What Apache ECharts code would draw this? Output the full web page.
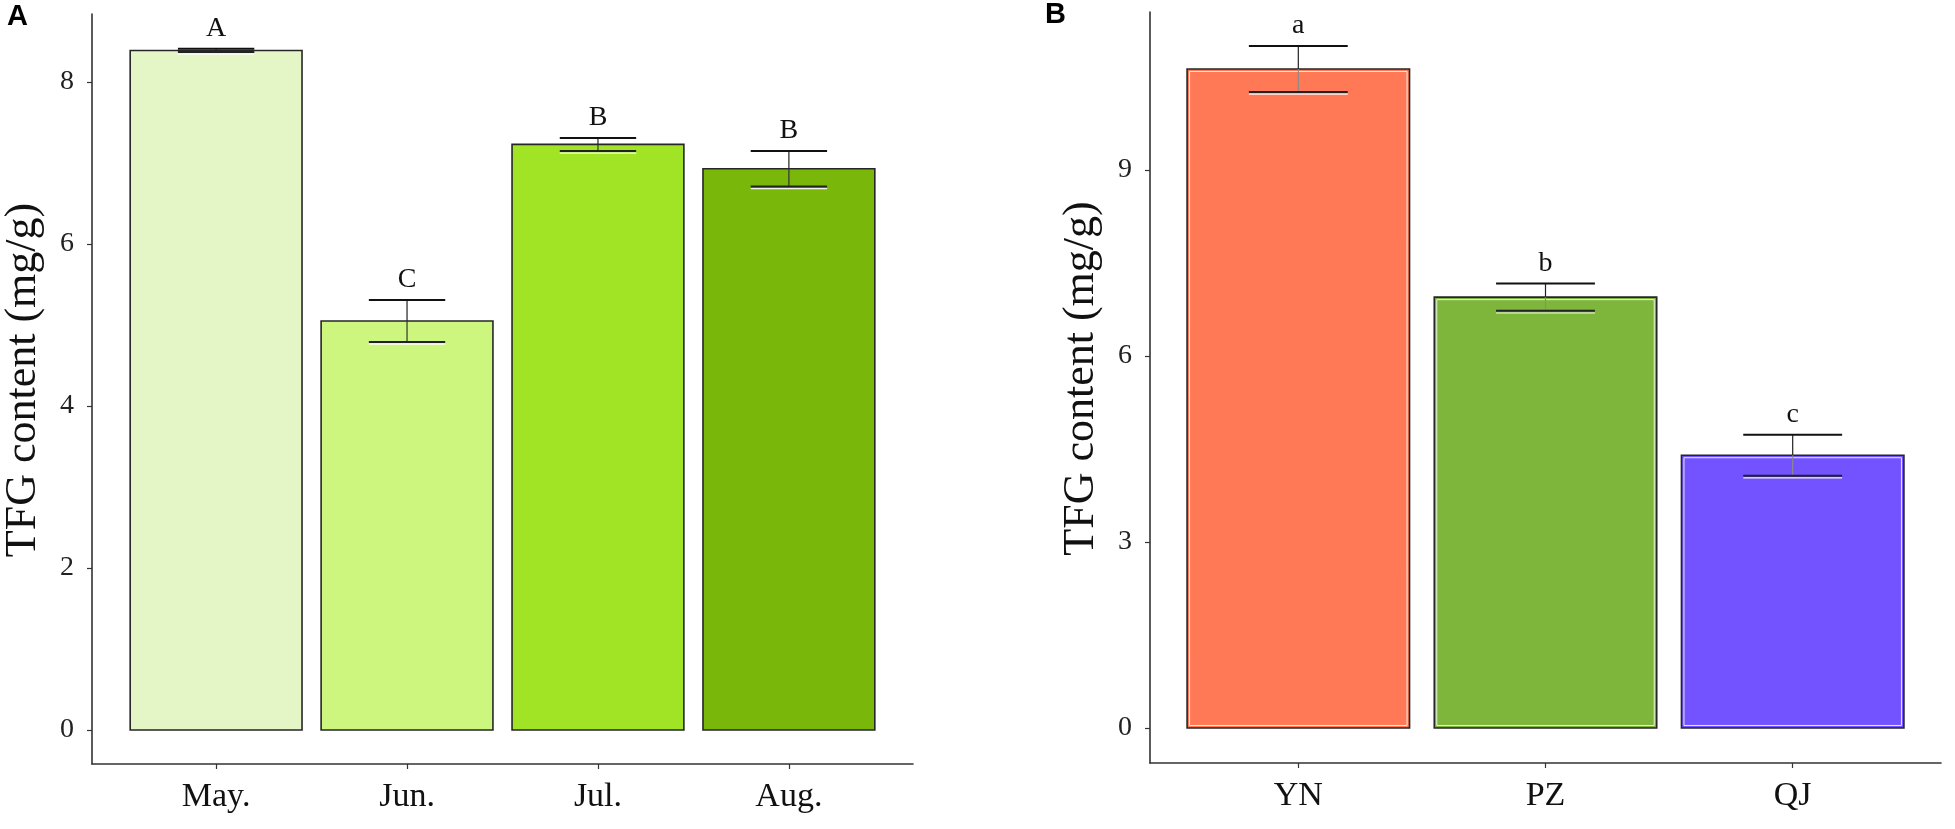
<!DOCTYPE html>
<html>
<head>
<meta charset="utf-8">
<script src="https://cdn.jsdelivr.net/npm/echarts@6/dist/echarts.min.js"></script>
<style>
  html, body { margin: 0; padding: 0; background: #ffffff; }
  #chart { width: 1955px; height: 829px; }
</style>
</head>
<body>
<div id="chart"></div>
<script>
// ---- Data ----
const months = ['May.', 'Jun.', 'Jul.', 'Aug.'];
const monthMeans = [8.39, 5.05, 7.23, 6.93];
const monthErrors = [0.02, 0.26, 0.08, 0.22];
const monthLetters = ['A', 'C', 'B', 'B'];
const monthTicks = [0, 2, 4, 6, 8];

const sites = ['YN', 'PZ', 'QJ'];
const siteMeans = [10.63, 6.95, 4.40];
const siteErrors = [0.37, 0.22, 0.33];
const siteLetters = ['a', 'b', 'c'];
const siteTicks = [0, 3, 6, 9];

// ---- Styles ----
const monthColors = ['#E4F6C6', '#CDF67F', '#A1E426', '#79B80A'];
const siteColors = ['#FF7956', '#7EB63B', '#7352FF'];
const SERIF = '"Liberation Serif", "Times New Roman", serif';

const monthData = months.map((m, i) => [i, monthMeans[i], monthErrors[i]]);
const siteData = sites.map((s, i) => [i, siteMeans[i], siteErrors[i]]);

function makeBarRender(colors, inner) {
  return function (params, api) {
    const i = api.value(0), v = api.value(1);
    const tl = api.coord([i - 0.45, v]);
    const br = api.coord([i + 0.45, 0]);
    const w = br[0] - tl[0], h = br[1] - tl[1];
    const children = [{
      type: 'rect',
      shape: { x: tl[0], y: tl[1], width: w, height: h },
      style: { fill: colors[params.dataIndex], stroke: '#262626', lineWidth: 1.6 }
    }];
    if (inner) {
      children.push({
        type: 'rect',
        shape: { x: tl[0] + 2.5, y: tl[1] + 2.5, width: w - 5, height: h - 5 },
        style: { fill: 'none', stroke: 'rgba(255,255,255,0.85)', lineWidth: 1 }
      });
    }
    return { type: 'group', children: children };
  };
}

function makeErrRender(letters, innerColor) {
  return function (params, api) {
    const i = api.value(0), v = api.value(1), e = api.value(2);
    const top = api.coord([i, v + e]);
    const bot = api.coord([i, v - e]);
    const mid = api.coord([i, v]);
    const l = api.coord([i - 0.2, v])[0];
    const r = api.coord([i + 0.2, v])[0];
    return {
      type: 'group',
      children: [
        { type: 'line', shape: { x1: top[0], y1: top[1], x2: top[0], y2: mid[1] }, style: { stroke: '#222', lineWidth: 1.2 } },
        { type: 'line', shape: { x1: top[0], y1: mid[1], x2: top[0], y2: bot[1] }, style: { stroke: innerColor, lineWidth: 1.2 } },
        { type: 'line', shape: { x1: l, y1: top[1], x2: r, y2: top[1] }, style: { stroke: '#111', lineWidth: 2 } },
        { type: 'line', shape: { x1: l, y1: bot[1], x2: r, y2: bot[1] }, style: { stroke: '#222', lineWidth: 2 } },
        { type: 'line', shape: { x1: l, y1: bot[1] + 2.2, x2: r, y2: bot[1] + 2.2 }, style: { stroke: 'rgba(255,255,255,0.9)', lineWidth: 1.2 } },
        {
          type: 'text',
          style: {
            text: letters[params.dataIndex], x: top[0], y: top[1] - 6,
            align: 'center', verticalAlign: 'bottom',
            textAlign: 'center', textVerticalAlign: 'bottom',
            font: '28px ' + SERIF, fill: '#111'
          }
        }
      ]
    };
  };
}

function xAxisFor(labels, min, max, gridIndex) {
  const idx = labels.map((l, i) => i);
  return {
    type: 'value', gridIndex: gridIndex, min: min, max: max,
    splitLine: { show: false },
    axisLine: { show: true, onZero: false, lineStyle: { color: '#333', width: 1.6 } },
    axisTick: { show: true, length: 5, customValues: idx, lineStyle: { color: '#333', width: 1.2 } },
    axisLabel: {
      customValues: idx, margin: 16,
      formatter: v => labels[Math.round(v)],
      fontFamily: SERIF, fontSize: 34, color: '#111'
    }
  };
}

function yAxisFor(ticks, min, max, gridIndex) {
  return {
    type: 'value', gridIndex: gridIndex, min: min, max: max,
    name: 'TFG content (mg/g)', nameLocation: 'middle', nameGap: 47,
    nameTextStyle: { fontFamily: SERIF, fontSize: 44, color: '#111', padding: [0, 0, 0, 18] },
    splitLine: { show: false },
    axisLine: { show: true, onZero: false, lineStyle: { color: '#333', width: 1.6 } },
    axisTick: { show: true, length: 5, customValues: ticks, lineStyle: { color: '#333', width: 1.2 } },
    axisLabel: {
      customValues: ticks, margin: 18,
      fontFamily: SERIF, fontSize: 28, color: '#222'
    }
  };
}

const chart = echarts.init(document.getElementById('chart'), null, { renderer: 'canvas' });
chart.setOption({
  backgroundColor: '#ffffff',
  animation: false,
  grid: [
    { left: 90, top: 14, width: 823, height: 750 },
    { left: 1150, top: 12, width: 791, height: 751 }
  ],
  xAxis: [
    xAxisFor(months, -0.65, 3.65, 0),
    xAxisFor(sites, -0.6, 2.6, 1)
  ],
  yAxis: [
    yAxisFor(monthTicks, -0.42, 8.84, 0),
    yAxisFor(siteTicks, -0.565, 11.55, 1)
  ],
  graphic: [
    { type: 'text', left: 7, top: 2, style: { text: 'A', font: 'bold 29px "Liberation Sans", Arial, sans-serif', fill: '#000' } },
    { type: 'text', left: 1045, top: 0, style: { text: 'B', font: 'bold 29px "Liberation Sans", Arial, sans-serif', fill: '#000' } }
  ],
  series: [
    { type: 'custom', xAxisIndex: 0, yAxisIndex: 0, data: monthData, renderItem: makeBarRender(monthColors, false) },
    { type: 'custom', xAxisIndex: 0, yAxisIndex: 0, data: monthData, renderItem: makeErrRender(monthLetters, '#333'), z: 3 },
    { type: 'custom', xAxisIndex: 1, yAxisIndex: 1, data: siteData, renderItem: makeBarRender(siteColors, true) },
    { type: 'custom', xAxisIndex: 1, yAxisIndex: 1, data: siteData, renderItem: makeErrRender(siteLetters, '#8a8a8a'), z: 3 }
  ]
});
</script>
</body>
</html>
